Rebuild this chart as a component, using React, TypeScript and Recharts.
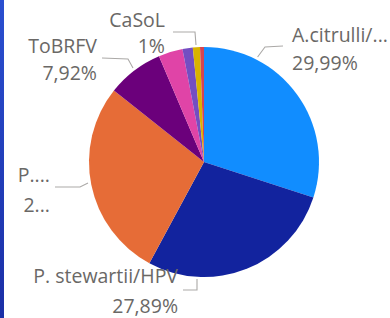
import React from "react";
import { PieChart, Pie, Cell } from "recharts";

const names = ["A.citrulli/...", "P. stewartii/HPV", "P....", "ToBRFV", "Outro A", "Outro B", "CaSoL", "Outro C"];
const values = [29.99, 27.89, 27.8, 7.92, 3.4, 1.45, 1.0, 0.55];
const colors = ["#118DFF", "#12239E", "#E66C37", "#6B007B", "#E044A7", "#744EC2", "#D9B300", "#D64550"];

const data = names.map((name, i) => ({ name, value: values[i] }));
const total = values.reduce((a, b) => a + b, 0);

// label layout relative to the pie centre
type LabelCfg = {
  pts: [number, number][];
  tx: number;
  anchor: "start" | "end";
  y1: number;
  y2: number;
  pctTrunc?: number;
};
const labelLayout: Record<number, LabelCfg> = {
  0: { pts: [[53.6, -105], [61, -115], [79, -116]], tx: 88, anchor: "start", y1: -120, y2: -92 },
  1: { pts: [[-7, 117], [-7, 128], [-21, 128]], tx: -26, anchor: "end", y1: 121, y2: 151 },
  2: { pts: [[-116, 21], [-124, 25], [-149, 25]], tx: -154, anchor: "end", y1: 20, y2: 50, pctTrunc: 1 },
  3: { pts: [[-71, -94], [-76, -103], [-102, -104]], tx: -107, anchor: "end", y1: -109, y2: -82 },
  6: { pts: [[-8, -117], [-9, -130], [-31, -130]], tx: -39, anchor: "end", y1: -135, y2: -109 },
};

const fmtPct = (v: number) => {
  let s = ((v / total) * 100).toFixed(2);
  s = s.replace(/\.?0+$/, "");
  return s.replace(".", ",") + "%";
};

const FONT = "'Open Sans', sans-serif";
const FS = 19.5;

const renderLabel = (props: any) => {
  const { cx, cy, index } = props;
  const cfg = labelLayout[index];
  if (!cfg) return null;
  const pts = cfg.pts.map(([x, y]) => `${cx + x},${cy + y}`).join(" ");
  let pct = fmtPct(values[index]);
  if (cfg.pctTrunc) pct = pct.slice(0, cfg.pctTrunc) + "...";
  return (
    <g>
      <polyline points={pts} fill="none" stroke="#ABA9A7" strokeWidth={1.1} />
      <text x={cx + cfg.tx} y={cy + cfg.y1} textAnchor={cfg.anchor} fill="#6A6866" fontSize={FS} fontFamily={FONT}>
        {names[index]}
      </text>
      <text x={cx + cfg.tx} y={cy + cfg.y2} textAnchor={cfg.anchor} fill="#6A6866" fontSize={FS} fontFamily={FONT}>
        {pct}
      </text>
    </g>
  );
};

export default function App() {
  return (
    <div style={{ position: "absolute", left: 0, top: 0, width: 390, height: 318, background: "#ffffff", overflow: "hidden" }}>
      <div
        style={{
          position: "absolute",
          left: 0,
          top: 0,
          width: 4,
          height: 318,
          background: "linear-gradient(#2a4fd0, #1b2fa6)",
        }}
      />
      <PieChart width={390} height={318} margin={{ top: 0, right: 0, bottom: 0, left: 0 }}>
        <Pie
          data={data}
          dataKey="value"
          nameKey="name"
          cx={204}
          cy={162}
          outerRadius={115}
          startAngle={90}
          endAngle={-270}
          stroke="none"
          label={renderLabel}
          labelLine={false}
          isAnimationActive={false}
        >
          {data.map((d, i) => (
            <Cell key={d.name} fill={colors[i]} />
          ))}
        </Pie>
      </PieChart>
    </div>
  );
}
